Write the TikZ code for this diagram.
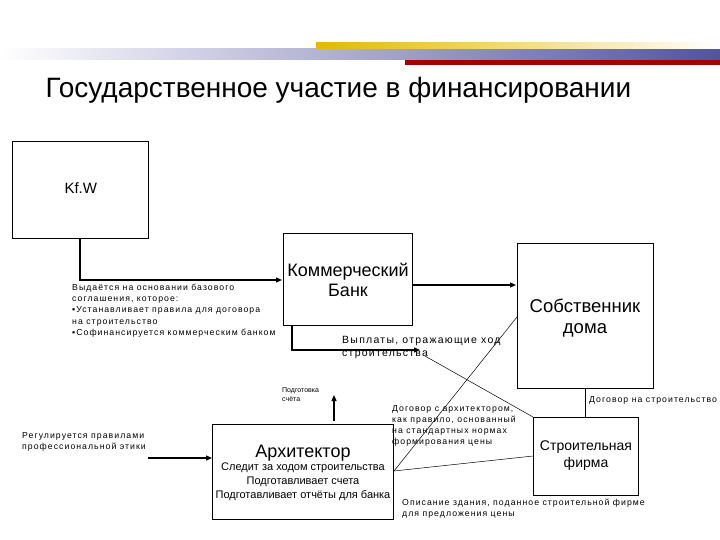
\documentclass[tikz,border=0pt]{standalone}
\usepackage{fontspec}
\setmainfont{Liberation Sans}
\newfontfamily\spaced[LetterSpace=12]{Liberation Sans}
\usetikzlibrary{arrows.meta}
\begin{document}
\begin{tikzpicture}[x=1pt,y=-1pt,
  box/.style={draw,line width=0.6pt},
  conn/.style={line width=1.3pt,-{Triangle[length=6pt,width=5pt]}},
  thin/.style={line width=0.5pt},
  small/.style={font=\spaced\fontsize{8.7}{11.2}\selectfont,align=left,inner sep=0pt}]
\useasboundingbox (0,0) rectangle (720,540);
\shade[left color=white,right color=black!15!blue!35!gray] (0,49) rectangle (720,60);
\shade[left color=yellow!60!orange!90!black,right color=white] (316,43) rectangle (720,49);
\fill[red!65!black] (405,60) rectangle (720,65);
\node[anchor=west,font=\fontsize{28}{30}\selectfont] (title) at (42,90) {Государственное участие в финансировании};
% boxes
\draw[box] (12,141) rectangle (148,238);
\node[anchor=west,font=\fontsize{15}{16}\selectfont] (kfw) at (61,188) {Kf.W};
\draw[box] (283,233) rectangle (412,325);
\node[font=\fontsize{18}{20}\selectfont,align=center] (bank) at (348,280) {Коммерческий\\Банк};
\draw[box] (517,243) rectangle (653,388);
\node[font=\fontsize{18.5}{21}\selectfont,align=center] (owner) at (585,318) {Собственник\\дома};
\draw[box] (533,417) rectangle (638,495);
\node[font=\fontsize{14}{17}\selectfont,align=center] (firm) at (586,456) {Строительная\\фирма};
\draw[box] (212,424) rectangle (393,519);
\node[font=\fontsize{18}{20}\selectfont] (arch) at (303,453) {Архитектор};
\node[font=\fontsize{11}{14}\selectfont,align=center] (archtxt) at (303,482) {Следит за ходом строительства\\Подготавливает счета\\Подготавливает отчёты для банка};
% coordinates
\coordinate (k1) at (80,238);
\coordinate (b1) at (282,280);
\coordinate (bo1) at (412,285);
\coordinate (o1) at (516,285);
\coordinate (b2) at (292,325);
\coordinate (p1) at (420,350);
\coordinate (a1) at (334,421);
\coordinate (a2) at (334,395);
\coordinate (r1) at (148,458);
\coordinate (a3) at (212,458);
\coordinate (ar) at (394,471);
\coordinate (ol) at (517,317);
\coordinate (fl) at (533,456);
\coordinate (ptxt) at (425,356);
\coordinate (ftl) at (533,417);
\coordinate (ob) at (585,388);
\coordinate (ft) at (585,417);
% connectors
\draw[conn] (k1) |- (b1);
\draw[conn] (bo1) -- (o1);
\draw[conn] (b2) |- (p1);
\draw[conn] (a1) -- (a2);
\draw[conn] (r1) -- (a3);
\draw[thin] (ar) -- (ol);
\draw[thin] (ar) -- (fl);
\draw[thin] (ptxt) -- (ftl);
\draw[thin] (ob) -- (ft);
% labels
\node[small,anchor=north west] (l1) at (72,284) {Выдаётся на основании базового\\соглашения, которое:\\▪Устанавливает правила для договора\\на строительство\\▪Софинансируется коммерческим банком};
\node[font=\spaced\fontsize{10.5}{13}\selectfont,align=left,inner sep=0pt,anchor=north west] (l2) at (342,336) {Выплаты, отражающие ход\\строительства};
\node[font=\fontsize{7}{9.5}\selectfont,align=left,inner sep=0pt,anchor=north west] (l3) at (282,387) {Подготовка\\счёта};
\node[small,anchor=north west] (l4) at (22,432) {Регулируется правилами\\профессиональной этики};
\node[small,anchor=north west] (l5) at (392,405) {Договор с архитектором,\\как правило, основанный\\на стандартных нормах\\формирования цены};
\node[small,anchor=north west] (l6) at (589,396) {Договор на строительство};
\node[small,anchor=north west] (l7) at (402,499) {Описание здания, поданное строительной фирме\\для предложения цены};
\end{tikzpicture}
\end{document}
